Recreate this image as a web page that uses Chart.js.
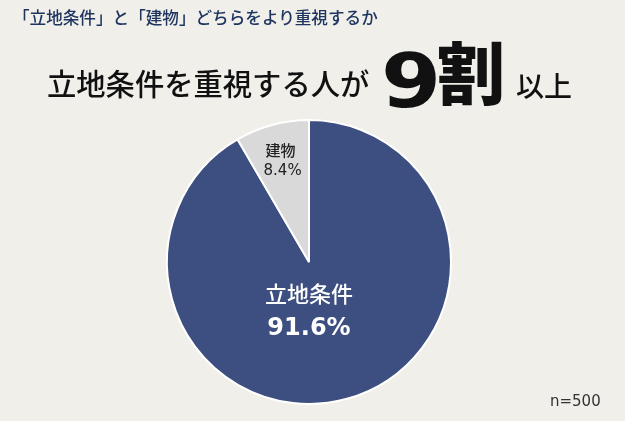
<!DOCTYPE html>
<html><head><meta charset="utf-8">
<script src="https://cdn.jsdelivr.net/npm/chart.js@4/dist/chart.umd.min.js"></script>
<style>
html,body{margin:0;padding:0;background:#f0efea;}
#wrap{position:relative;width:625px;height:421px;overflow:hidden;background:#f0efea;font-family:"Noto Sans CJK JP","Noto Sans",sans-serif;}
#sub{position:absolute;left:13px;top:5px;font-size:16.6px;font-weight:500;color:#1f3560;white-space:nowrap;}
#head{position:absolute;left:0;top:52px;width:625px;white-space:nowrap;color:#111;}
#head span{position:absolute;line-height:1;display:inline-block;}
#head .a{left:47px;top:16px;font-size:29.3px;font-weight:500;}
#head .b1{left:381px;top:-8px;font-size:74px;font-weight:bold;font-family:"DejaVu Sans",sans-serif;transform:scaleX(1.17);transform-origin:0 0;}
#head .b2{left:437px;top:-16px;font-size:68px;font-weight:900;}
#head .c{left:516px;top:19px;font-size:28px;font-weight:500;}
#n{position:absolute;left:550px;top:392px;font-size:15px;color:#333;font-family:"DejaVu Sans",sans-serif;}
canvas{position:absolute;left:0;top:0;}
</style></head>
<body>
<div id="wrap">
<canvas id="c" width="625" height="421"></canvas>
<div id="sub">「立地条件」と「建物」どちらをより重視するか</div>
<div id="head"><span class="a">立地条件を重視する人が</span><span class="b1">9</span><span class="b2">割</span><span class="c">以上</span></div>
<div id="n">n=500</div>
</div>
<script>
const categories = ["立地条件", "建物"];
const values = [91.6, 8.4];
const valueLabels = ["91.6%", "8.4%"];
const colors = ["#3d4f80", "#d9d9d9"];

const labelPlugin = {
  id: 'sliceLabels',
  afterDatasetsDraw(chart) {
    const ctx = chart.ctx;
    const meta = chart.getDatasetMeta(0);
    ctx.save();
    ctx.textAlign = 'center';
    ctx.textBaseline = 'middle';
    meta.data.forEach((arc, i) => {
      const p = arc.getProps(['x','y','startAngle','endAngle','outerRadius'], true);
      if (i === 0) {
        const x = p.x, y = p.y + p.outerRadius * 0.22;
        ctx.fillStyle = '#ffffff';
        ctx.font = '500 22px "Noto Sans CJK JP", sans-serif';
        ctx.fillText(categories[i], x, y);
        ctx.font = 'bold 24px "DejaVu Sans", sans-serif';
        ctx.fillText(valueLabels[i], x, y + 36);
      } else {
        const mid = (p.startAngle + p.endAngle) / 2;
        const d = p.outerRadius * 0.74;
        const x = p.x + Math.cos(mid) * d, y = p.y + Math.sin(mid) * d;
        ctx.fillStyle = '#222222';
        ctx.font = '500 15px "Noto Sans CJK JP", sans-serif';
        ctx.fillText(categories[i], x - 1, y - 10);
        ctx.font = '15px "DejaVu Sans", sans-serif';
        ctx.fillText(valueLabels[i], x + 1, y + 11);
      }
    });
    ctx.restore();
  }
};

new Chart(document.getElementById('c'), {
  type: 'pie',
  data: {
    labels: categories,
    datasets: [{
      data: values,
      backgroundColor: colors,
      borderColor: '#ffffff',
      borderWidth: 2
    }]
  },
  options: {
    responsive: false,
    animation: false,
    layout: { padding: { top: 119, bottom: 16, left: 0, right: 7 } },
    plugins: { legend: { display: false }, tooltip: { enabled: false }, title: { display: false } }
  },
  plugins: [labelPlugin]
});
</script>
</body></html>
